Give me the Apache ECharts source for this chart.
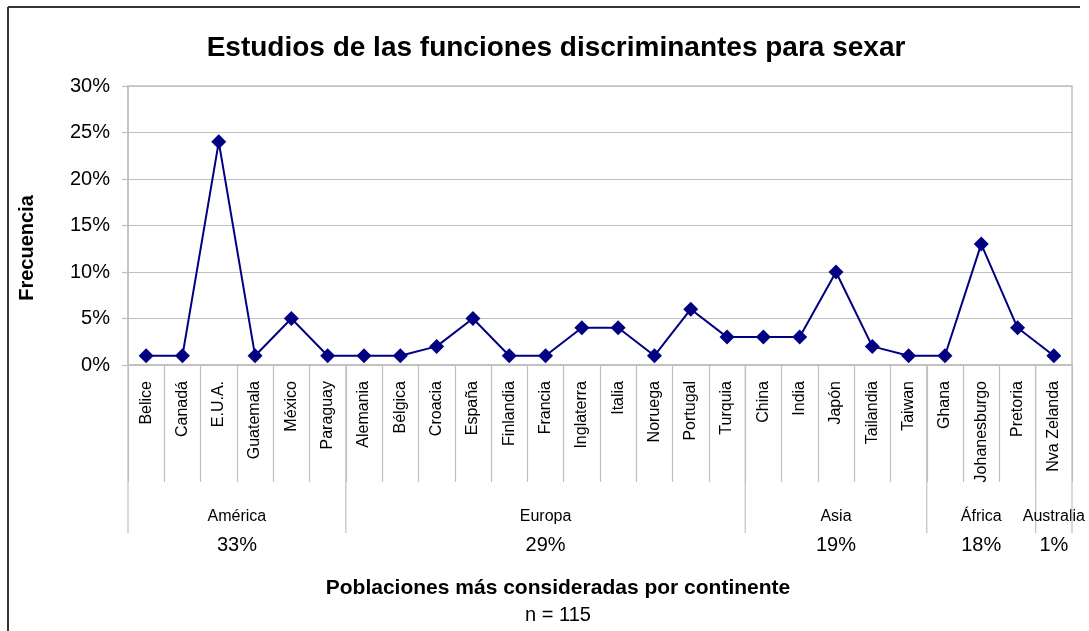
<!DOCTYPE html>
<html>
<head>
<meta charset="utf-8">
<script src="https://cdn.jsdelivr.net/npm/echarts@6/dist/echarts.min.js"></script>
<style>
  html, body { margin: 0; padding: 0; background: #ffffff; }
  #chart { width: 1089px; height: 631px; }
</style>
</head>
<body>
<div id="chart"></div>
<script>
// Populations studied, per country (percent of n = 115)
const countries = ['Belice', 'Canadá', 'E.U.A.', 'Guatemala', 'México', 'Paraguay',
  'Alemania', 'Bélgica', 'Croacia', 'España', 'Finlandia', 'Francia', 'Inglaterra',
  'Italia', 'Noruega', 'Portugal', 'Turquia',
  'China', 'India', 'Japón', 'Tailandia', 'Taiwan',
  'Ghana', 'Johanesburgo', 'Pretoria',
  'Nva Zelanda'];
const frequency = [1, 1, 24, 1, 5, 1,
  1, 1, 2, 5, 1, 1, 4, 4, 1, 6, 3,
  3, 3, 10, 2, 1,
  1, 13, 4,
  1];

// Continent groups along the category axis
const continents = ['América', 'Europa', 'Asia', 'África', 'Australia'];
const continentCounts = [6, 11, 5, 3, 1];
const continentShares = ['33%', '29%', '19%', '18%', '1%'];

const yTicks = [0, 5, 10, 15, 20, 25, 30];

const sans = '"Liberation Sans", Arial, sans-serif';
const gridGray = '#c0c0c0';

// start index of each continent group
const groupStarts = [];
continentCounts.reduce((acc, c) => { groupStarts.push(acc); return acc + c; }, 0);
const groupData = continents.map((name, i) => [groupStarts[i], continentCounts[i]]);

const chart = echarts.init(document.getElementById('chart'), null, { renderer: 'canvas' });

chart.setOption({
  backgroundColor: '#ffffff',
  animation: false,
  title: {
    text: 'Estudios de las funciones discriminantes para sexar',
    left: 551,
    textAlign: 'center',
    top: 29,
    textStyle: { fontFamily: sans, fontSize: 28, fontWeight: 'bold', color: '#000000' }
  },
  grid: {
    left: 128, right: 17, top: 86, bottom: 266,
    show: true, borderColor: gridGray, borderWidth: 1.5
  },
  xAxis: {
    type: 'category',
    data: countries,
    boundaryGap: true,
    axisLine: { lineStyle: { color: gridGray, width: 1.5 } },
    axisTick: { show: true, interval: 0, length: 117, lineStyle: { color: gridGray, width: 1.2 } },
    axisLabel: {
      interval: 0, rotate: 90, margin: 16,
      fontFamily: sans, fontSize: 16, color: '#000000'
    },
    splitLine: { show: false }
  },
  yAxis: {
    type: 'value',
    min: yTicks[0],
    max: yTicks[yTicks.length - 1],
    interval: 5,
    axisLine: { show: true, lineStyle: { color: gridGray, width: 1.5 } },
    axisTick: { show: true, length: 6, lineStyle: { color: gridGray, width: 1.2 } },
    axisLabel: {
      formatter: '{value}%', margin: 18,
      fontFamily: sans, fontSize: 20, color: '#000000'
    },
    splitLine: { lineStyle: { color: gridGray, width: 1.2 } }
  },
  series: [
    {
      type: 'line',
      data: frequency,
      symbol: 'diamond',
      symbolSize: 15,
      showAllSymbol: true,
      lineStyle: { color: '#000080', width: 2 },
      itemStyle: { color: '#000080' },
      z: 5
    },
    {
      // continent brackets under the country labels
      type: 'custom',
      data: groupData,
      encode: { x: 0, y: 1 },
      clip: false,
      silent: true,
      z: 1,
      renderItem: function (params, api) {
        const i = params.dataIndex;
        const start = api.value(0);
        const count = api.value(1);
        const bw = api.size([1, 0])[0];
        const c0 = api.coord([start, 0]);
        const left = c0[0] - bw / 2;
        const right = left + count * bw;
        const y0 = c0[1];
        const children = [
          { type: 'line', shape: { x1: left, y1: y0, x2: left, y2: y0 + 168 },
            style: { stroke: gridGray, lineWidth: 1.2 } },
          { type: 'text', x: (left + right) / 2, y: y0 + 152,
            style: { text: continents[i], fontFamily: sans, fontSize: 16, fill: '#000000',
              align: 'center', verticalAlign: 'middle' } },
          { type: 'text', x: (left + right) / 2, y: y0 + 180,
            style: { text: continentShares[i], fontFamily: sans, fontSize: 20, fill: '#000000',
              align: 'center', verticalAlign: 'middle' } }
        ];
        if (i === continents.length - 1) {
          children.push({ type: 'line', shape: { x1: right, y1: y0, x2: right, y2: y0 + 168 },
            style: { stroke: gridGray, lineWidth: 1.2 } });
        }
        return { type: 'group', children: children };
      }
    }
  ],
  graphic: [
    { type: 'line', shape: { x1: 8, y1: 7, x2: 1080, y2: 7 }, style: { stroke: '#333333', lineWidth: 2 } },
    { type: 'line', shape: { x1: 8, y1: 7, x2: 8, y2: 640 }, style: { stroke: '#333333', lineWidth: 2 } },
    { type: 'text', x: 27, y: 248, rotation: Math.PI / 2,
      style: { text: 'Frecuencia', fontFamily: sans, fontSize: 20, fontWeight: 'bold', fill: '#000000',
        align: 'center', verticalAlign: 'middle' } },
    { type: 'text', x: 558, y: 588,
      style: { text: 'Poblaciones más consideradas por continente', fontFamily: sans,
        fontSize: 21, fontWeight: 'bold', fill: '#000000', align: 'center', verticalAlign: 'middle' } },
    { type: 'text', x: 558, y: 615,
      style: { text: 'n = 115', fontFamily: sans, fontSize: 20, fill: '#000000',
        align: 'center', verticalAlign: 'middle' } }
  ]
});
</script>
</body>
</html>
